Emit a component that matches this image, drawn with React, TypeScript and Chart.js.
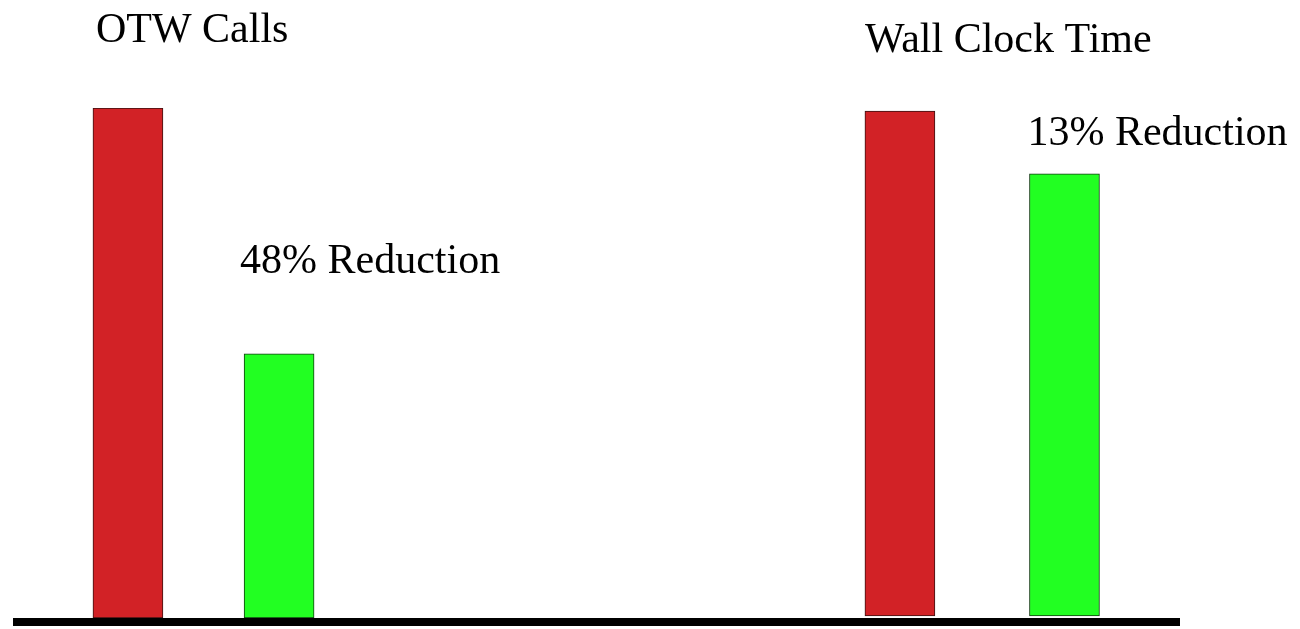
import React, { useEffect, useRef } from "react";
import { Chart, registerables } from "chart.js";

Chart.register(...registerables);

// ---- data ----
const groupTitles = ["OTW Calls", "Wall Clock Time"];
const reductionLabels = ["48% Reduction", "13% Reduction"];
const beforeValues = [100, 99.4];
const afterValues = [51.8, 87.1];
const groupBase = [0, 0.4];
const beforePositions = [9.85, 76.0];
const afterPositions = [22.8, 90.1];

const RED = "#d22226";
const GREEN = "#22ff22";

const textPlugin = {
  id: "annotations",
  afterDraw(chart: any) {
    const { ctx, chartArea, scales } = chart;
    const x = scales.x;
    const y = scales.y;
    ctx.save();
    // baseline
    const y0 = y.getPixelForValue(0);
    ctx.fillStyle = "#000";
    ctx.fillRect(chartArea.left, y0, chartArea.right - chartArea.left, 8);
    ctx.font = '42px "Liberation Serif", "Times New Roman", serif';
    ctx.fillStyle = "#000";
    ctx.textBaseline = "alphabetic";
    ctx.textAlign = "left";
    // group titles
    const titleY = [42, 52];
    groupTitles.forEach((t, i) => {
      const px = x.getPixelForValue(beforePositions[i]) - 35 + (i === 0 ? 3 : 0);
      ctx.fillText(t, px, titleY[i]);
    });
    // reduction labels
    const redY = [273, 145];
    reductionLabels.forEach((t, i) => {
      const px = x.getPixelForValue(afterPositions[i]) - 35 - (i === 0 ? 4 : 2);
      ctx.fillText(t, px, redY[i]);
    });
    ctx.restore();
  },
};

export default function App() {
  const ref = useRef<HTMLCanvasElement | null>(null);
  useEffect(() => {
    if (!ref.current) return;
    const chart = new Chart(ref.current, {
      type: "bar",
      data: {
        datasets: [
          {
            label: "Before",
            data: beforeValues.map((v, i) => ({ x: beforePositions[i], y: [groupBase[i], v] })) as any,
            backgroundColor: RED,
            borderColor: "#3a1212",
            borderWidth: 1,
            borderSkipped: false,
            barThickness: 70,
            grouped: false,
          },
          {
            label: "After",
            data: afterValues.map((v, i) => ({ x: afterPositions[i], y: [groupBase[i], v] })) as any,
            backgroundColor: GREEN,
            borderColor: "#123a12",
            borderWidth: 1,
            borderSkipped: false,
            barThickness: 70,
            grouped: false,
          },
        ],
      },
      options: {
        animation: false,
        responsive: false,
        maintainAspectRatio: false,
        layout: { padding: { left: 13, right: 120, top: 108, bottom: 11 } },
        plugins: { legend: { display: false }, tooltip: { enabled: false }, title: { display: false } },
        scales: {
          x: { type: "linear", min: 0, max: 100, offset: false, display: false, grid: { display: false } },
          y: { type: "linear", min: 0, max: 100, display: false, grid: { display: false } },
        },
      },
      plugins: [textPlugin],
    });
    return () => chart.destroy();
  }, []);
  return (
    <div style={{ position: "absolute", left: 0, top: 0, width: 1300, height: 629, background: "#fff" }}>
      <canvas ref={ref} width={1300} height={629} style={{ width: 1300, height: 629, display: "block" }} />
    </div>
  );
}
